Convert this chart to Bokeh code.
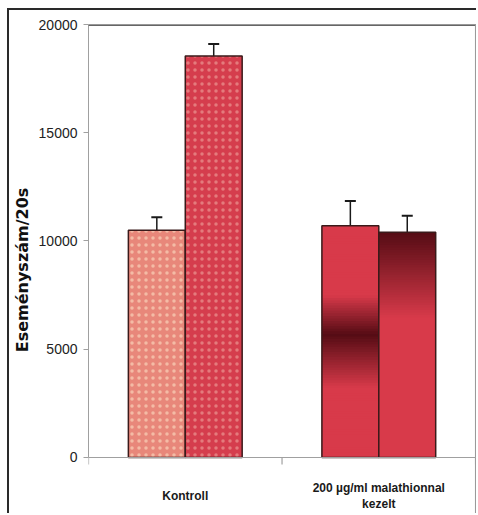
import numpy as np
from bokeh.plotting import figure
from bokeh.models import Range1d, FixedTicker, Whisker, TeeHead, ColumnDataSource, Span
from bokeh.core.properties import value
from bokeh.embed import file_html
from bokeh.resources import INLINE

# ---- data ----
categories = ["Kontroll", "200 µg/ml malathionnal\nkezelt"]
series_a = [10500, 10700]      # first bar of each group
series_a_err = [600, 1150]
series_b = [18550, 10400]      # second bar of each group
series_b_err = [550, 770]
y_ticks = [0, 5000, 10000, 15000, 20000]

W = 0.294  # bar width in category units
centers = np.arange(len(categories)) + 0.5
bounds_x = list(range(len(categories) + 1))

p = figure(width=469, height=505, output_backend="svg", toolbar_location=None,
           x_range=Range1d(0, 2.01), y_range=Range1d(-2680, 20000),
           min_border_left=77, min_border_right=1, min_border_top=14, min_border_bottom=0)
p.xgrid.visible = False
p.ygrid.visible = False
p.outline_line_color = None
p.background_fill_color = "white"
p.border_fill_color = "white"
p.styles = {"margin-left": "7px", "margin-top": "8px",
            "border-left": "2px solid #2a2a2a", "border-top": "2px solid #2a2a2a"}

RED = np.array([0xD8, 0x3A, 0x4A]) / 255.0
DARK = np.array([0x55, 0x0C, 0x14]) / 255.0


def mix(t):
    c = RED * (1 - t) + DARK * t
    return "#%02x%02x%02x" % tuple(int(round(v * 255)) for v in c)


# Kontroll group: dotted bars
xa = centers - W / 2
xb = centers + W / 2
p.vbar(x=[xa[0]], top=[series_a[0]], width=W, fill_color="#E8877A",
       line_color="#3a1a1a", line_width=1.5,
       hatch_pattern="dot", hatch_color="#FFF0D0", hatch_alpha=0.5, hatch_scale=7, hatch_weight=1.3)
p.vbar(x=[xb[0]], top=[series_b[0]], width=W, fill_color="#D53D4D",
       line_color="#3a1a1a", line_width=1.5,
       hatch_pattern="dot", hatch_color="#F6C8B8", hatch_alpha=0.45, hatch_scale=7, hatch_weight=1.3)

# treated group: gradient fills (style only, slices built from bar value)
n = 90
fr = np.linspace(0, 1, n + 1)


def grad_a(f):
    return float(np.interp(f, [0, 0.30, 0.53, 0.70, 1.0], [0, 0, 1, 0, 0]))


def grad_b(f):
    return float(np.interp(f, [0, 0.62, 1.0], [0, 0, 1]))


for xc, val, g in [(xa[1], series_a[1], grad_a), (xb[1], series_b[1], grad_b)]:
    bots = fr[:-1] * val
    tops = np.minimum(fr[1:] * val + val / n * 0.8, val)
    mids = (fr[:-1] + fr[1:]) / 2
    cols = [mix(g(m)) for m in mids]
    p.quad(left=[xc - W / 2] * n, right=[xc + W / 2] * n, bottom=bots, top=tops,
           fill_color=cols, line_color=None)
    p.vbar(x=[xc], top=[val], width=W, fill_alpha=0, line_color="#3a1a1a", line_width=1.5)

# error bars
src = ColumnDataSource(dict(
    x=list(xa) + list(xb),
    upper=[v + e for v, e in zip(series_a, series_a_err)] + [v + e for v, e in zip(series_b, series_b_err)],
    lower=[v - e for v, e in zip(series_a, series_a_err)] + [v - e for v, e in zip(series_b, series_b_err)],
))
wh = Whisker(source=src, base="x", upper="upper", lower="lower", line_color="#1a1a1a", line_width=1.5,
             upper_head=TeeHead(size=11, line_color="#1a1a1a", line_width=2),
             lower_head=TeeHead(size=11, line_color="#1a1a1a", line_width=2))
p.add_layout(wh)

# frame lines: dark top, grey right, grey category axis at zero
p.add_layout(Span(location=y_ticks[-1], dimension="width", line_color="#333333", line_width=2.5))
p.add_layout(Span(location=bounds_x[-1], dimension="height", line_color="#9a9a9a", line_width=1.2))
p.add_layout(Span(location=0, dimension="width", line_color="#a0a0a0", line_width=1.2))
p.ray(x=bounds_x, y=[0] * len(bounds_x), length=7, length_units="screen", angle=-np.pi / 2,
      line_color="#a0a0a0", line_width=1.2)

# category labels
p.text(x=centers, y=[0] * len(categories), text=categories, y_offset=[32, 24],
       text_align="center", text_baseline="top", text_font=value("Liberation Sans"),
       text_font_style="bold", text_font_size="12px", text_color="#1a1a1a", text_line_height=1.1)

# y axis
ya = p.yaxis[0]
ya.ticker = FixedTicker(ticks=y_ticks)
ya.bounds = (y_ticks[0], y_ticks[-1])
ya.axis_label = "Eseményszám/20s"
ya.axis_label_text_font = "DejaVu Sans"
ya.axis_label_text_font_style = "bold"
ya.axis_label_text_font_size = "16px"
ya.axis_label_text_color = "#111111"
ya.axis_label_standoff = 4
ya.major_label_text_font = "Liberation Sans"
ya.major_label_text_font_size = "14px"
ya.major_label_text_color = "#222222"
ya.major_label_standoff = 6
ya.axis_line_color = "#a0a0a0"
ya.major_tick_line_color = "#a0a0a0"
ya.major_tick_out = 5
ya.major_tick_in = 0
ya.minor_tick_line_color = None

p.xaxis.visible = False

open("out.html", "w").write(file_html(p, INLINE))
